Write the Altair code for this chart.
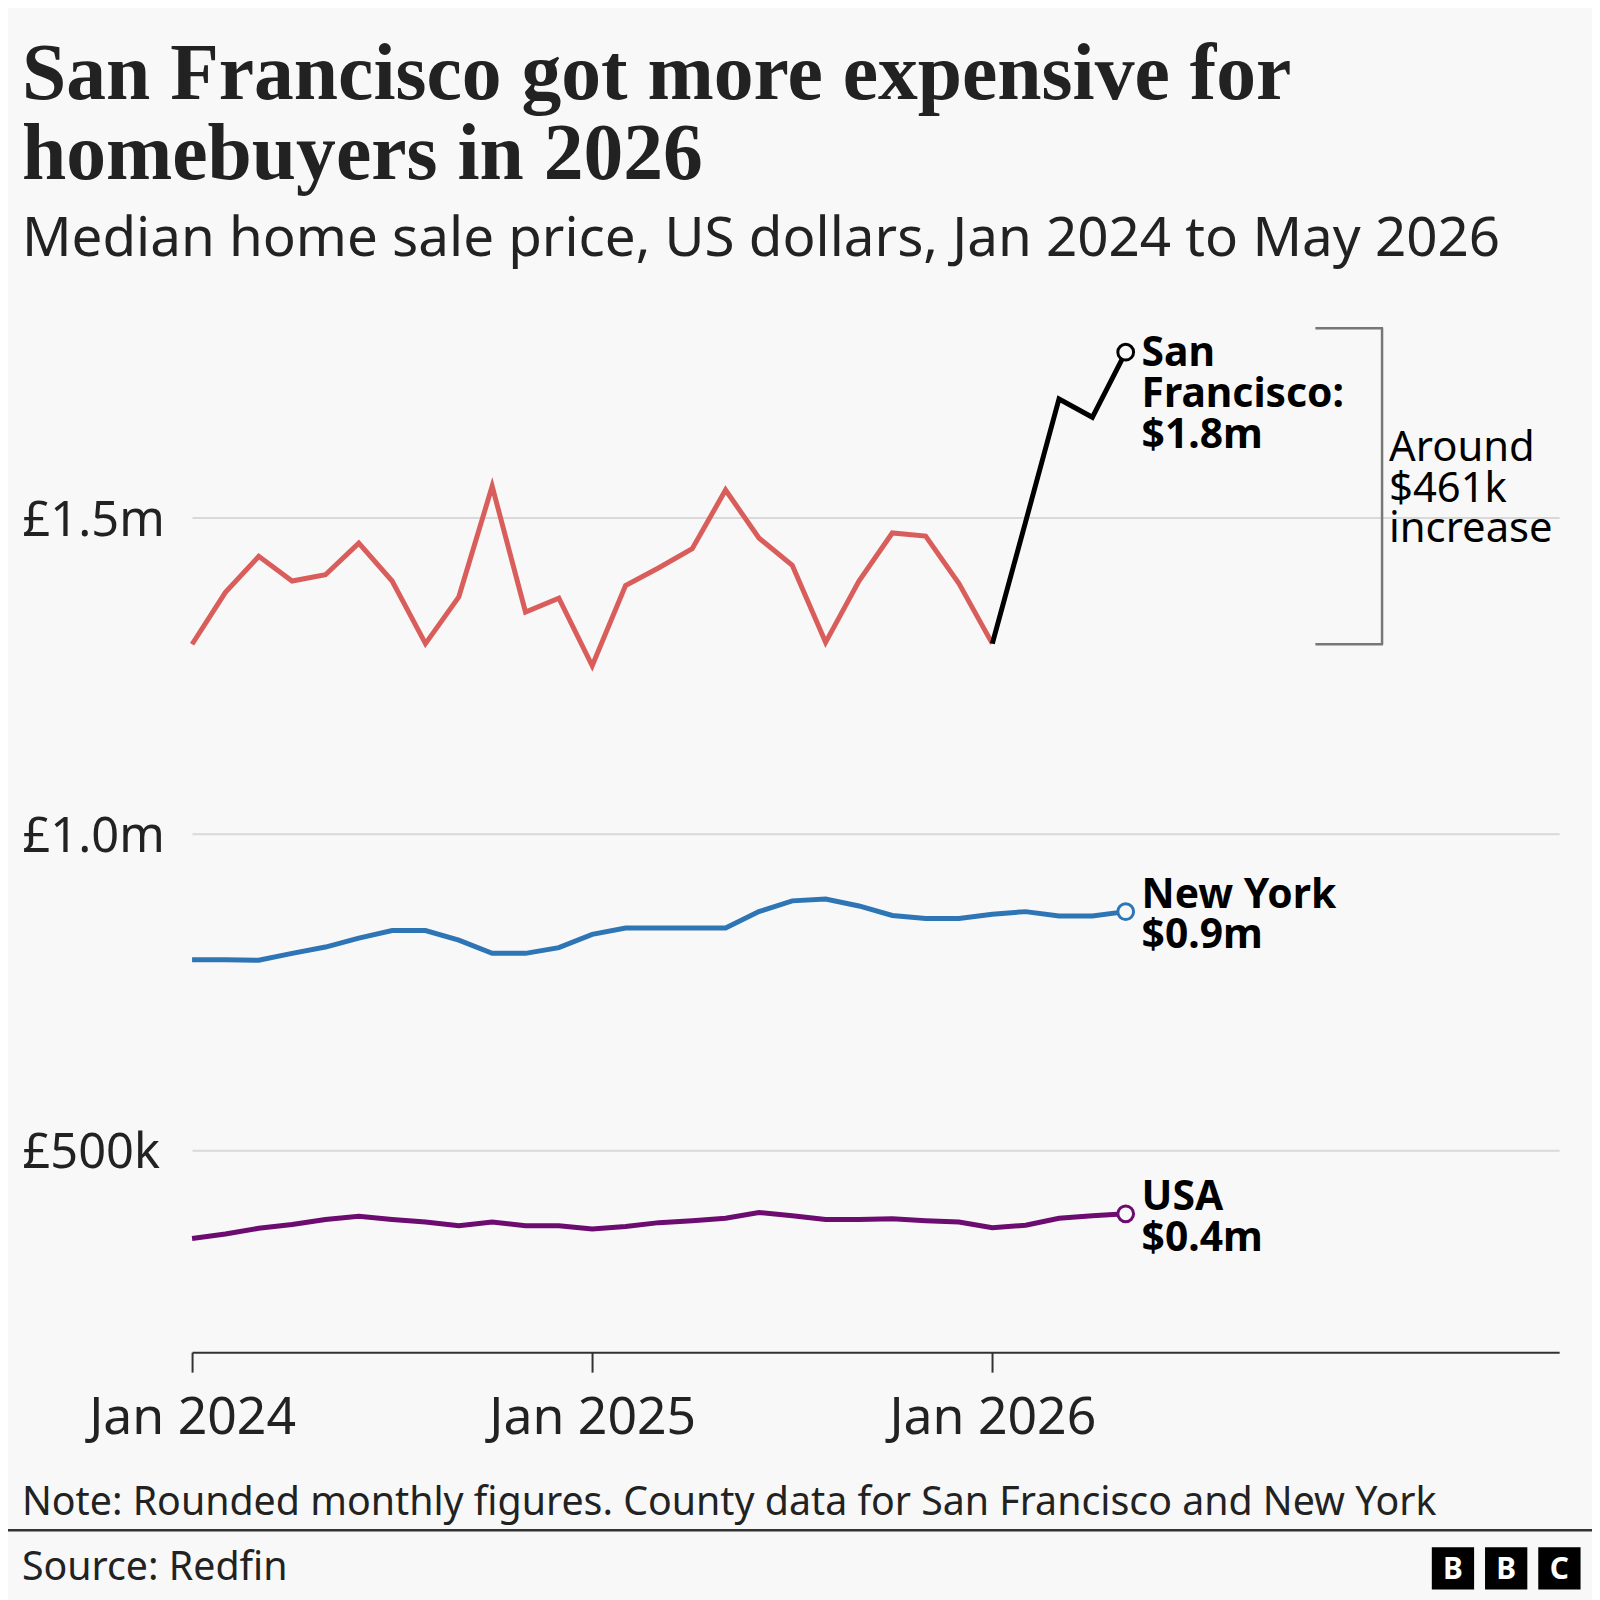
import altair as alt
import pandas as pd

# ---------------- data (median sale price, $ millions) ----------------
month_idx = list(range(29))  # 0 = Jan 2024 ... 28 = May 2026

sf_price = [1.300, 1.382, 1.439, 1.400, 1.410, 1.460, 1.400, 1.301, 1.375, 1.550, 1.351, 1.373,
            1.266, 1.393, 1.421, 1.451, 1.544, 1.468, 1.425, 1.303, 1.400, 1.476, 1.471, 1.396,
            1.301, 1.494, 1.688, 1.659, 1.762]
ny_price = [0.801, 0.801, 0.800, 0.811, 0.821, 0.835, 0.847, 0.847, 0.832, 0.811, 0.811, 0.820,
            0.841, 0.851, 0.851, 0.851, 0.851, 0.877, 0.894, 0.897, 0.886, 0.871, 0.866, 0.866,
            0.873, 0.877, 0.870, 0.870, 0.877]
usa_price = [0.360, 0.367, 0.376, 0.382, 0.390, 0.395, 0.390, 0.386, 0.380, 0.386, 0.380, 0.380,
             0.375, 0.379, 0.385, 0.388, 0.392, 0.401, 0.396, 0.390, 0.390, 0.391, 0.388, 0.386,
             0.377, 0.381, 0.392, 0.396, 0.399]

series_names = ["San Francisco", "New York", "USA"]
series_colors = ["#000000", "#2e75b6", "#6c0b70"]
sf_early_color = "#d95d5a"
end_labels = ["San\nFrancisco:\n$1.8m", "New York\n$0.9m", "USA\n$0.4m"]

y_tick_values = [0.5, 1.0, 1.5]
y_tick_labels = ["£500k", "£1.0m", "£1.5m"]
x_tick_values = [0, 12, 24]
x_tick_labels = ["Jan 2024", "Jan 2025", "Jan 2026"]

bracket_low = 1.30
bracket_high = 1.80
bracket_text = "Around\n$461k\nincrease"

title_text = "San Francisco got more expensive for\nhomebuyers in 2026"
subtitle_text = "Median home sale price, US dollars, Jan 2024 to May 2026"
note_text = "Note: Rounded monthly figures. County data for San Francisco and New York"
source_text = "Source: Redfin"
logo_letters = ["B", "B", "C"]

# ---------------- styling ----------------
SANS = "Noto Sans"
SERIF = "Liberation Serif"
TXT = "#222222"
W, H = 1374, 1061


def label_expr(values, labels):
    expr = "''"
    for v, l in zip(reversed(values), reversed(labels)):
        expr = f"datum.value == {v} ? '{l}' : ({expr})"
    return expr


x_axis = alt.Axis(values=x_tick_values, labelExpr=label_expr(x_tick_values, x_tick_labels),
                  grid=False, domain=True, domainColor="#333333", domainWidth=2,
                  ticks=True, tickSize=20, tickColor="#333333", tickWidth=2,
                  labelFont=SANS, labelFontSize=52, labelColor=TXT, labelFlush=False,
                  labelLimit=0, labelBaseline="alphabetic", labelPadding=62,
                  labelAlign="center", title=None)
y_axis = alt.Axis(values=y_tick_values, labelExpr=label_expr(y_tick_values, y_tick_labels),
                  grid=True, gridColor="#d9d9d9", gridWidth=2, domain=False, ticks=False,
                  tickSize=0, labelFont=SANS, labelFontSize=49, labelColor=TXT,
                  labelAlign="left", labelBaseline="alphabetic", labelOffset=18,
                  labelPadding=171, labelFlush=False, labelLimit=0, title=None)


def X():
    return alt.X("m:Q", scale=alt.Scale(domain=[0, 41], nice=False, zero=False), axis=x_axis)


def Y(field="v"):
    return alt.Y(f"{field}:Q", scale=alt.Scale(domain=[0.18, 1.85], nice=False, zero=False), axis=y_axis)


df_sf_red = pd.DataFrame({"m": month_idx[:25], "v": sf_price[:25]})
df_sf_black = pd.DataFrame({"m": month_idx[24:], "v": sf_price[24:]})
df_ny = pd.DataFrame({"m": month_idx, "v": ny_price})
df_usa = pd.DataFrame({"m": month_idx, "v": usa_price})

ends = pd.DataFrame({
    "m": [month_idx[-1]] * 3,
    "v": [sf_price[-1], ny_price[-1], usa_price[-1]],
    "col": series_colors,
    "lab": end_labels,
    "name": series_names,
})

line_w = 5
red_line = alt.Chart(df_sf_red).mark_line(color=sf_early_color, strokeWidth=line_w).encode(x=X(), y=Y())
black_line = alt.Chart(df_sf_black).mark_line(color=series_colors[0], strokeWidth=line_w).encode(x=X(), y=Y())
ny_line = alt.Chart(df_ny).mark_line(color=series_colors[1], strokeWidth=line_w).encode(x=X(), y=Y())
usa_line = alt.Chart(df_usa).mark_line(color=series_colors[2], strokeWidth=line_w).encode(x=X(), y=Y())

points = alt.Chart(ends).mark_point(shape="circle", filled=True, fill="#f8f8f8", size=250,
                                    strokeWidth=3, opacity=1).encode(
    x=X(), y=Y(), stroke=alt.Stroke("col:N", scale=None))

sf_lab = alt.Chart(ends.iloc[[0]]).mark_text(
    align="left", baseline="alphabetic", dx=16, dy=14, font=SANS, fontSize=41, fontWeight="bold",
    lineBreak="\n", lineHeight=41, color="#000000").encode(x=X(), y=Y(), text="lab:N")
other_lab = alt.Chart(ends.iloc[[1, 2]]).mark_text(
    align="left", baseline="alphabetic", dx=16, dy=-4, font=SANS, fontSize=41, fontWeight="bold",
    lineBreak="\n", lineHeight=41, color="#000000").encode(x=X(), y=Y(), text="lab:N")

# bracket annotation
br = pd.DataFrame({"lo": [bracket_low], "hi": [bracket_high]})
br_color = "#777777"
br_top = alt.Chart(br).mark_rule(color=br_color, strokeWidth=2.5).encode(
    x=alt.value(1129), x2=alt.value(1197), y=Y("hi"))
br_bot = alt.Chart(br).mark_rule(color=br_color, strokeWidth=2.5).encode(
    x=alt.value(1129), x2=alt.value(1197), y=Y("lo"))
br_vert = alt.Chart(br).mark_rule(color=br_color, strokeWidth=2.5).encode(
    x=alt.value(1196), y=Y("hi"), y2="lo:Q")
br_txt = alt.Chart(pd.DataFrame({"t": [bracket_text]})).mark_text(
    align="left", baseline="alphabetic", font=SANS, fontSize=42, lineBreak="\n", lineHeight=41,
    color="#000000").encode(x=alt.value(1203), y=alt.value(165), text="t:N")


def deco_text(txt, x, y, size, font=SANS, weight="normal", color=TXT, lh=None, align="left"):
    kw = dict(align=align, baseline="alphabetic", font=font, fontSize=size, fontWeight=weight,
              color=color, lineBreak="\n")
    if lh:
        kw["lineHeight"] = lh
    return alt.Chart(pd.DataFrame({"t": [txt]})).mark_text(**kw).encode(
        x=alt.value(x), y=alt.value(y), text="t:N")


title = deco_text(title_text, -171, -199, 80, font=SERIF, weight="bold", lh=81)
subtitle = deco_text(subtitle_text, -171, -41, 55)
note = deco_text(note_text, -171, 1225, 39.5)
source = deco_text(source_text, -171, 1290, 39.5)

divider = alt.Chart(pd.DataFrame({"a": [0]})).mark_rule(color="#333333", strokeWidth=2.5).encode(
    x=alt.value(-193), x2=alt.value(1410), y=alt.value(1240))

sq = 42.5
gap = 11
logo_x0 = 1246
logo_y0 = 1257
logo_layers = []
for i, letter in enumerate(logo_letters):
    x0 = logo_x0 + i * (sq + gap)
    logo_layers.append(alt.Chart(pd.DataFrame({"l": [letter]})).mark_rect(color="#000000").encode(
        x=alt.value(x0), x2=alt.value(x0 + sq), y=alt.value(logo_y0), y2=alt.value(logo_y0 + sq)))
    logo_layers.append(alt.Chart(pd.DataFrame({"l": [letter]})).mark_text(
        align="center", baseline="alphabetic", font=SANS, fontSize=30, fontWeight="bold",
        color="#ffffff").encode(x=alt.value(x0 + sq / 2), y=alt.value(logo_y0 + sq / 2 + 11), text="l:N"))

chart = alt.layer(
    red_line, black_line, ny_line, usa_line, points, sf_lab, other_lab,
    br_top, br_bot, br_vert, br_txt,
    title, subtitle, note, source, divider, *logo_layers
).properties(
    width=W, height=H,
    padding={"left": 185, "top": 286, "right": 33, "bottom": 245},
    autosize=alt.AutoSizeParams(type="none"),
    background="#f8f8f8",
).configure_view(stroke=None)

chart.save("out.html", embed_options={"renderer": "svg", "actions": False})
